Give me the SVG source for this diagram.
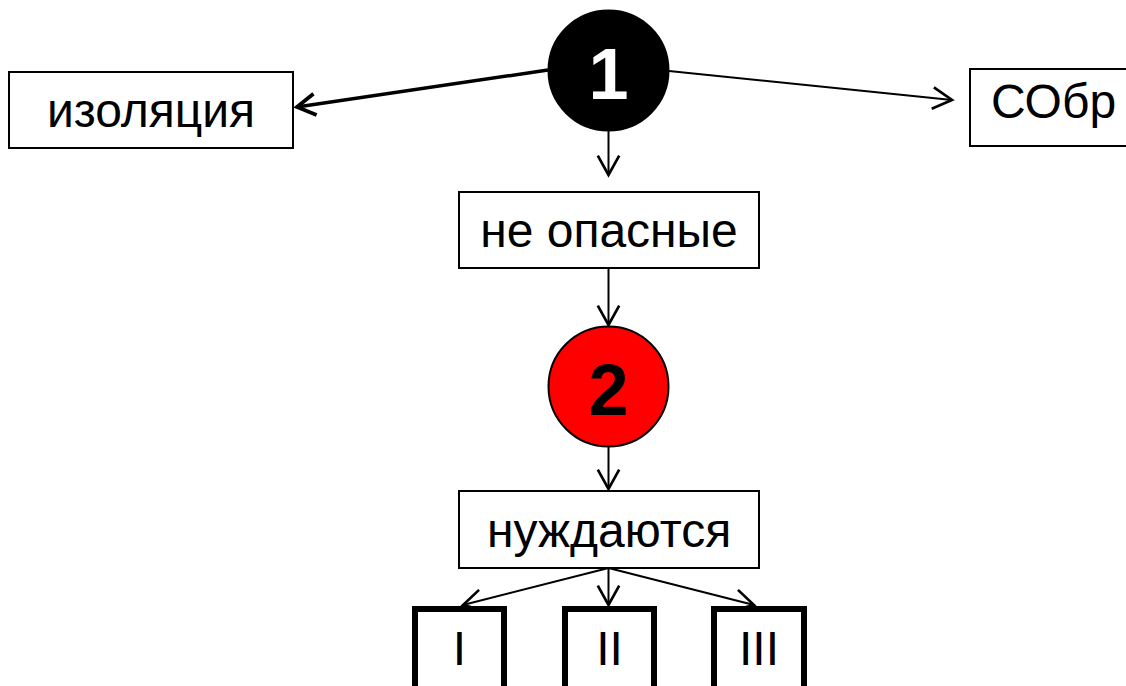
<svg xmlns="http://www.w3.org/2000/svg" width="1126" height="686" viewBox="0 0 1126 686">
<style>
.box{fill:#fff;stroke:#000;stroke-width:2}
.tbox{fill:#fff;stroke:#000;stroke-width:6}
.t{font-family:"Liberation Sans",Arial,sans-serif;font-size:48px;fill:#000;text-anchor:middle}
.num{font-family:"Liberation Sans",Arial,sans-serif;font-size:72px;font-weight:bold;text-anchor:middle}
.c{fill:none;stroke:#000;stroke-width:2}
.thick{stroke-width:3.5}
</style>
<defs>
<marker id="ah" markerUnits="userSpaceOnUse" markerWidth="30" markerHeight="30" refX="0" refY="0" viewBox="-22 -14 26 28" orient="auto" overflow="visible">
<path d="M-18,-10 L0,0 L-18,10" fill="none" stroke="#000" stroke-width="2.5"/>
</marker>
<marker id="ahb" markerUnits="userSpaceOnUse" markerWidth="30" markerHeight="30" refX="0" refY="0" viewBox="-22 -14 26 28" orient="auto" overflow="visible">
<path d="M-17,-10 L0,0 L-17,10" fill="none" stroke="#000" stroke-width="3.5"/>
</marker>
</defs>
<rect width="1126" height="686" fill="#fff"/>
<g id="connectors">
<line class="c thick" x1="548" y1="70" x2="297" y2="107" marker-end="url(#ahb)"/>
<line class="c" x1="669" y1="71" x2="952" y2="100" marker-end="url(#ah)"/>
<line class="c" x1="608.5" y1="131" x2="608.5" y2="175" marker-end="url(#ah)"/>
<line class="c" x1="608.5" y1="268" x2="608.5" y2="325" marker-end="url(#ah)"/>
<line class="c" x1="608.5" y1="447" x2="608.5" y2="489" marker-end="url(#ah)"/>
<line class="c" x1="608.5" y1="568" x2="463" y2="605" marker-end="url(#ah)"/>
<line class="c" x1="608.5" y1="568" x2="608.5" y2="605" marker-end="url(#ah)"/>
<line class="c" x1="608.5" y1="568" x2="754" y2="605" marker-end="url(#ah)"/>
</g>
<g id="n1">
<circle cx="608.5" cy="70.5" r="60" fill="#000" stroke="#000" stroke-width="2"/>
<text class="num" x="608.5" y="99" fill="#fff">1</text>
</g>
<g id="izol">
<rect class="box" x="9" y="72" width="284" height="76"/>
<text class="t" x="151" y="127">изоляция</text>
</g>
<g id="sobr">
<rect class="box" x="970" y="69" width="170" height="77"/>
<text class="t" x="991" y="118" style="text-anchor:start">СОбр</text>
</g>
<g id="neopas">
<rect class="box" x="459" y="192" width="300" height="76"/>
<text class="t" x="609" y="247">не опасные</text>
</g>
<g id="n2">
<circle cx="608.5" cy="386.5" r="60" fill="#f00" stroke="#000" stroke-width="2"/>
<text class="num" x="608.5" y="415" fill="#000">2</text>
</g>
<g id="nuzhd">
<rect class="box" x="459" y="491" width="300" height="77"/>
<text class="t" x="609" y="547">нуждаются</text>
</g>
<g id="b1">
<rect class="tbox" x="415" y="609" width="89" height="100"/>
<text class="t" x="459.5" y="665">I</text>
</g>
<g id="b2">
<rect class="tbox" x="565" y="609" width="89" height="100"/>
<text class="t" x="609.5" y="665">II</text>
</g>
<g id="b3">
<rect class="tbox" x="714" y="609" width="90" height="100"/>
<text class="t" x="759" y="665">III</text>
</g>
</svg>
